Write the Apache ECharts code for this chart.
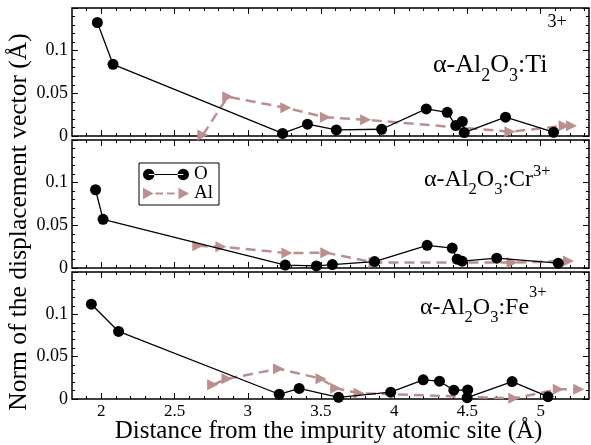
<!DOCTYPE html>
<html><head><meta charset="utf-8">
<script src="https://cdn.jsdelivr.net/npm/echarts@6/dist/echarts.min.js"></script>
<style>html,body{margin:0;padding:0;background:#fff}#c{width:591px;height:445px}</style>
</head><body><div id="c"></div>
<script>
// ---- data ----
const xMajorTicks = [2, 2.5, 3, 3.5, 4, 4.5, 5];
const xMinorTicks = [1.9, 2.0, 2.1, 2.2, 2.3, 2.4, 2.5, 2.6, 2.7, 2.8, 2.9, 3.0, 3.1, 3.2, 3.3, 3.4, 3.5, 3.6, 3.7, 3.8, 3.9, 4.0, 4.1, 4.2, 4.3, 4.4, 4.5, 4.6, 4.7, 4.8, 4.9, 5.0, 5.1, 5.2, 5.3];
const panelNames = ['Ti', 'Cr', 'Fe'];

const tiOx = [1.973, 2.08, 3.238, 3.408, 3.605, 3.914, 4.219, 4.362, 4.42, 4.465, 4.478, 4.76, 5.088];
const tiOy = [0.133, 0.084, 0.003, 0.0139, 0.0071, 0.0079, 0.0317, 0.0278, 0.0123, 0.017, 0.004, 0.022, 0.0044];
const tiAlx = [2.693, 2.863, 3.26, 3.53, 3.805, 4.79, 5.16, 5.21];
const tiAly = [0.0012, 0.046, 0.033, 0.022, 0.019, 0.005, 0.012, 0.012];

const crOx = [1.961, 2.012, 3.256, 3.469, 3.578, 3.866, 4.225, 4.396, 4.43, 4.464, 4.70, 5.12];
const crOy = [0.0917, 0.057, 0.0034, 0.0024, 0.004, 0.0075, 0.0266, 0.0234, 0.0103, 0.008, 0.0115, 0.0056];
const crAlx = [2.659, 2.817, 3.267, 3.533, 3.862, 4.805, 5.19];
const crAly = [0.026, 0.025, 0.0175, 0.018, 0.0063, 0.0063, 0.0083];

const feOx = [1.932, 2.118, 3.215, 3.351, 3.62, 3.976, 4.198, 4.309, 4.407, 4.502, 4.498, 4.805, 5.05];
const feOy = [0.112, 0.0798, 0.0056, 0.0125, 0.002, 0.008, 0.0226, 0.021, 0.0104, 0.0107, 0.0016, 0.0206, 0.0028];
const feAlx = [2.76, 2.858, 3.21, 3.50, 3.60, 3.76, 4.816, 5.12, 5.26];
const feAly = [0.0167, 0.0238, 0.0357, 0.024, 0.0127, 0.0068, 0.0008, 0.0115, 0.0115];

// ---- build ----
const FONT = 'Liberation Serif';
const AL_COLOR = '#bc8f8f';
const zip = (a, b) => a.map((v, i) => [v, b[i]]);
const panels = [
  {O: zip(tiOx, tiOy), Al: zip(tiAlx, tiAly)},
  {O: zip(crOx, crOy), Al: zip(crAlx, crAly)},
  {O: zip(feOx, feOy), Al: zip(feAlx, feAly)}
];
const grids = [
  {left: 72, right: 2, top: 8, height: 128},
  {left: 72, right: 2, top: 140, height: 128},
  {left: 72, right: 2, top: 272, height: 127}
];
const XMIN = 1.8, XMAX = 5.33;
const xAxis = [], yAxis = [], series = [];
grids.forEach((g, gi) => {
  g.show = true; g.borderColor = '#000'; g.borderWidth = 1.5;
  g.containLabel = false;
  const mk = (pos, major) => ({
    type: 'value', gridIndex: gi, position: pos, min: XMIN, max: XMAX,
    axisLine: {show: false}, splitLine: {show: false},
    axisTick: {show: true, inside: true, length: major ? 6 : 3, customValues: major ? xMajorTicks : xMinorTicks,
      lineStyle: {color: '#000', width: 1}},
    axisLabel: {show: major && pos === 'bottom' && gi === 2, customValues: xMajorTicks, margin: 4,
      fontFamily: FONT, fontSize: 17, color: '#000'}
  });
  xAxis.push(mk('bottom', true), mk('bottom', false), mk('top', true), mk('top', false));
  const mky = (pos) => ({
    type: 'value', gridIndex: gi, position: pos, min: 0, max: 0.15, interval: 0.05,
    axisLine: {show: false}, splitLine: {show: false},
    axisTick: {show: true, inside: true, length: 6, lineStyle: {color: '#000', width: 1}},
    minorTick: {show: true, splitNumber: 5, length: 3, lineStyle: {color: '#000', width: 1}},
    axisLabel: {show: pos === 'left', margin: 4, fontFamily: FONT, fontSize: 18, color: '#000',
      formatter: v => (v > 0.12 ? '' : String(+v.toFixed(2)))}
  });
  yAxis.push(mky('left'), mky('right'));
  series.push({
    name: 'O', type: 'line', xAxisIndex: gi * 4, yAxisIndex: gi * 2, data: panels[gi].O,
    symbol: 'circle', symbolSize: 11, showSymbol: true,
    lineStyle: {color: '#000', width: 1.3}, itemStyle: {color: '#000'}, z: 3
  });
  series.push({
    name: 'Al', type: 'line', xAxisIndex: gi * 4, yAxisIndex: gi * 2, data: panels[gi].Al,
    symbol: 'triangle', symbolRotate: -90, symbolSize: 11, showSymbol: true,
    lineStyle: {color: AL_COLOR, width: 2.5, type: [10, 6]}, itemStyle: {color: AL_COLOR}, z: 2
  });
});

// legend icons (48 x 12 box)
const iconO = 'path://M0,6a6,6 0 1,0 12,0a6,6 0 1,0 -12,0Z M36,6a6,6 0 1,0 12,0a6,6 0 1,0 -12,0Z M6,5.35H42V6.65H6Z';
const iconAl = 'path://M0,0L11,6L0,12Z M37,0L48,6L37,12Z M13,4.9H21V7.1H13Z M25,4.9H33V7.1H25Z';

// text helpers
const ctx = document.createElement('canvas').getContext('2d');
function tw(t, s) { ctx.font = s + 'px "' + FONT + '"'; return ctx.measureText(t).width; }
function richLabel(x0, parts) {
  const els = []; let x = x0;
  parts.forEach(([t, s, base]) => {
    els.push({type: 'text', x: x, y: base - 0.3 * s, z: 10,
      style: {text: t, fontSize: s, fontFamily: FONT, fill: '#000', align: 'left', verticalAlign: 'middle'}});
    x += tw(t, s);
  });
  return els;
}
const graphics = [];
graphics.push(...richLabel(433, [['α-Al', 26, 73], ['2', 18, 82], ['O', 26, 73], ['3', 18, 82], [':Ti', 26, 73], ['3+', 18, 28]]));
graphics.push(...richLabel(424, [['α-Al', 24, 187], ['2', 16.5, 195], ['O', 24, 187], ['3', 16.5, 195], [':Cr', 24, 187], ['3+', 16.5, 177]]));
graphics.push(...richLabel(420, [['α-Al', 24, 315], ['2', 16.5, 323], ['O', 24, 315], ['3', 16.5, 323], [':Fe', 24, 315], ['3+', 16.5, 298]]));
graphics.push({type: 'text', x: 328.5, y: 431, z: 10,
  style: {text: 'Distance from the impurity atomic site (Å)', fontSize: 25, fontFamily: FONT, fill: '#000', align: 'center', verticalAlign: 'middle'}});
graphics.push({type: 'text', x: 19, y: 222, rotation: Math.PI / 2, z: 10,
  style: {text: 'Norm of the displacement vector (Å)', fontSize: 25.5, fontFamily: FONT, fill: '#000', align: 'center', verticalAlign: 'middle'}});

const chart = echarts.init(document.getElementById('c'), null, {renderer: 'canvas'});
chart.setOption({
  animation: false,
  backgroundColor: '#fff',
  grid: grids, xAxis: xAxis, yAxis: yAxis, series: series,
  legend: {
    orient: 'vertical', left: 139, top: 163, selectedMode: false,
    backgroundColor: '#fff', borderColor: '#000', borderWidth: 1, borderRadius: 0,
    padding: [2, 6, 2, 4], itemGap: 0, itemWidth: 46, itemHeight: 11.5,
    textStyle: {fontFamily: FONT, fontSize: 19, lineHeight: 19, color: '#000'},
    data: [{name: 'O', icon: iconO}, {name: 'Al', icon: iconAl}]
  },
  graphic: graphics
});
</script>
</body></html>
